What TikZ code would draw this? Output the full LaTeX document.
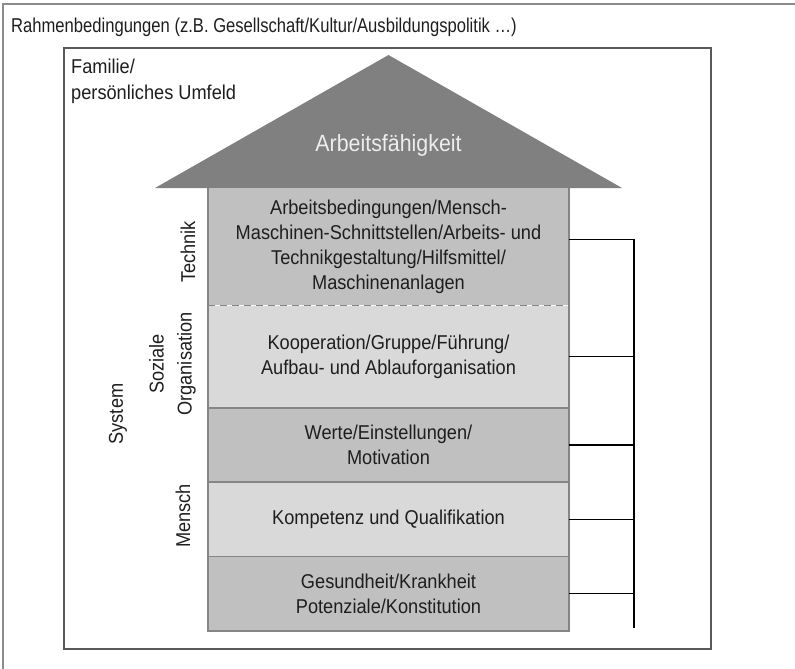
\documentclass[tikz,border=0pt]{standalone}
\usepackage{fontspec}
\setmainfont{Liberation Sans}[FakeStretch=0.91]
\newfontfamily\narrowfont{Liberation Sans}[FakeStretch=0.83]
\definecolor{gdark}{HTML}{C0C0C0}
\definecolor{glight}{HTML}{D9D9D9}
\definecolor{roofgray}{HTML}{808080}
\definecolor{edgegray}{HTML}{858585}
\definecolor{framegray}{HTML}{5A5A5A}
\definecolor{outergray}{HTML}{8C8C8C}
\definecolor{txtcol}{HTML}{1E1E1E}
\begin{document}
\begin{tikzpicture}[x=1pt,y=-1pt,
  font=\fontsize{20}{25}\selectfont,
  txt/.style={text=txtcol, inner sep=0pt, align=center},
  layer/.style={txt, anchor=north, minimum width=361pt, inner sep=0pt},
  edge/.style={draw=edgegray, line width=1.5pt},
  tick/.style={draw=black, line width=1.2pt}]
\useasboundingbox (0,0) rectangle (795,669);
\clip (0,0) rectangle (795,669);
% outer frame (cropped at right and bottom)
\draw[outergray, line width=2pt] (3,4) rectangle (820,700);
\node[txt, anchor=base west, font=\fontsize{20}{25}\narrowfont] (rahmen) at (11,33)
  {Rahmenbedingungen (z.B. Gesellschaft/Kultur/Ausbildungspolitik \dots)};
% inner frame
\draw[framegray, line width=1.6pt] (64,48) rectangle (711,649);
\node[txt, anchor=north west, align=left] (familie) at (71,59)
  {Familie/\\[1pt]pers\"onliches Umfeld};
% roof
\coordinate (roofL) at (155,188);
\coordinate (roofT) at (388.5,55);
\coordinate (roofR) at (622,188);
\fill[roofgray] (roofL) -- (roofT) -- (roofR) -- cycle;
\node[txt, text=white!93!black, font=\fontsize{23.5}{28}\selectfont] (arbeit) at (388.5,145) {Arbeitsf\"ahigkeit};
% layers
\node[layer, fill=gdark, minimum height=117pt] (tech) at (388.5,188)
  {Arbeitsbedingungen/Mensch-\\Maschinen-Schnittstellen/Arbeits- und\\Technikgestaltung/Hilfsmittel/\\Maschinenanlagen};
\node[layer, fill=glight, minimum height=102pt] (soz) at (tech.south)
  {Kooperation/Gruppe/F\"uhrung/\\Aufbau- und Ablauforganisation};
\node[layer, fill=gdark, minimum height=74pt] (werte) at (soz.south)
  {Werte/Einstellungen/\\Motivation};
\node[layer, fill=glight, minimum height=74pt] (komp) at (werte.south)
  {Kompetenz und Qualifikation};
\node[layer, fill=gdark, minimum height=74pt] (ges) at (komp.south)
  {Gesundheit/Krankheit\\Potenziale/Konstitution};
% layer borders
\draw[edge] (tech.north west) -- (ges.south west) -- (ges.south east) -- (tech.north east);
\draw[edge, dashed, dash pattern=on 7pt off 5pt, line width=1.2pt] (tech.south west) -- (tech.south east);
\draw[edge] (soz.south west) -- (soz.south east);
\draw[edge] (werte.south west) -- (werte.south east);
\draw[edge] (komp.south west) -- (komp.south east);
% side labels
\node[txt, rotate=90] (technik) at (188,252) {Technik};
\node[txt, rotate=90] (sozlab) at (172.5,364) {Soziale\\[3pt]Organisation};
\node[txt, rotate=90] (system) at (118,414) {System};
\node[txt, rotate=90] (mensch) at (183,516) {Mensch};
% bracket
\coordinate (brx) at (634,0);
\coordinate (t1) at ([yshift=7.5pt]tech.east);
\coordinate (bend) at (634,628);
\draw[tick] (t1) -- (t1 -| brx) -- (bend);
\draw[tick] (soz.east) -- (soz.east -| brx);
\draw[tick] (werte.east) -- (werte.east -| brx);
\draw[tick] (komp.east) -- (komp.east -| brx);
\draw[tick] (ges.east) -- (ges.east -| brx);
\end{tikzpicture}
\end{document}
